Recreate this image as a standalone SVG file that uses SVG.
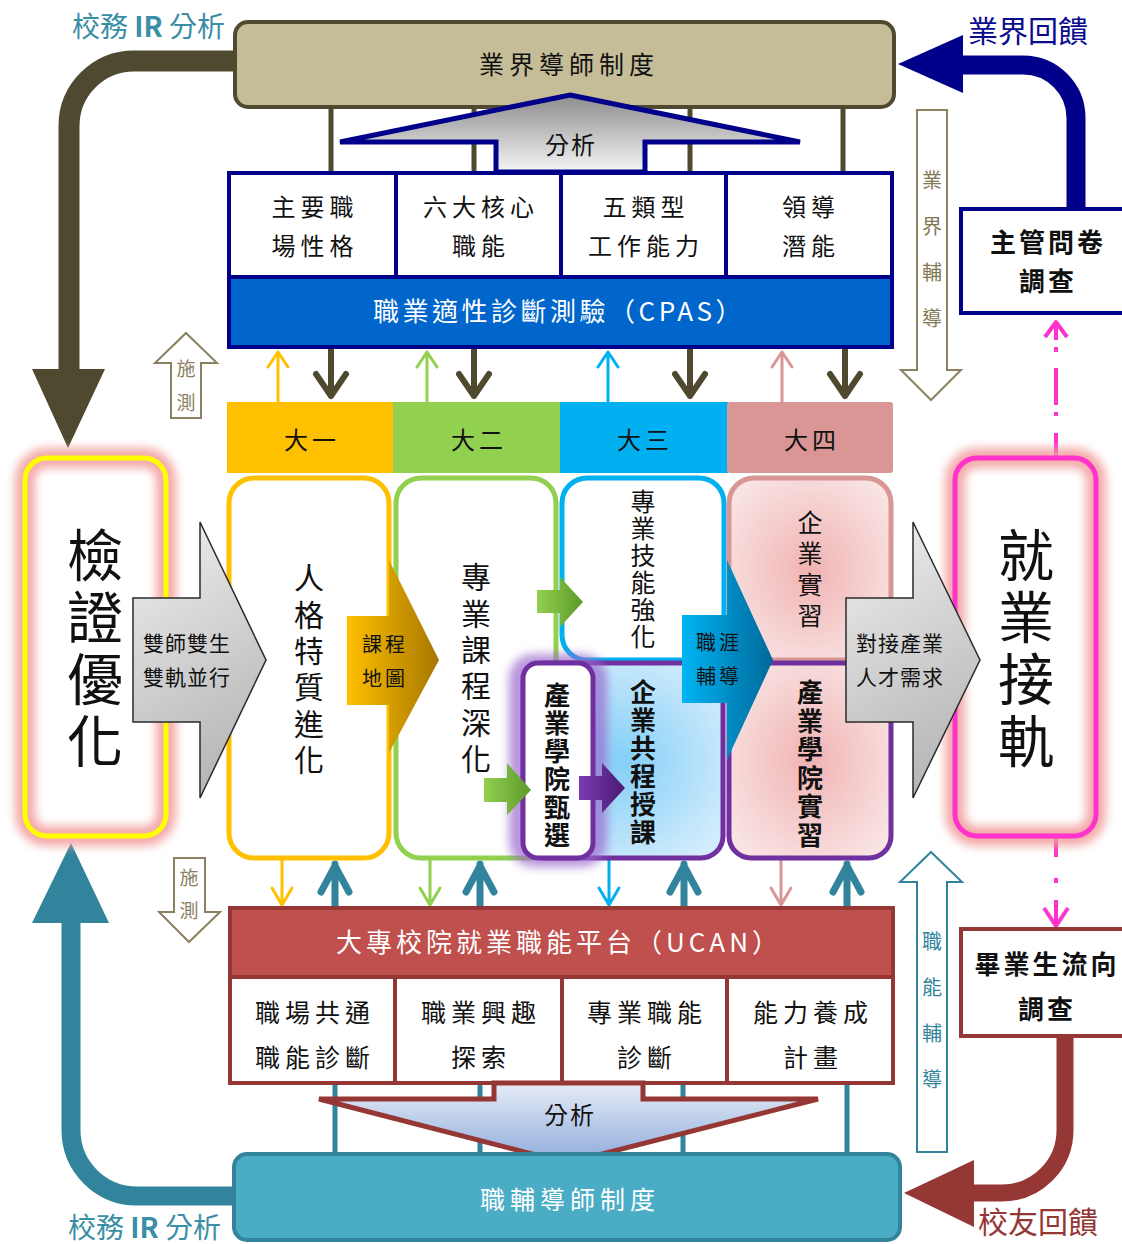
<svg xmlns="http://www.w3.org/2000/svg" width="1122" height="1244" viewBox="0 0 1122 1244">
<defs>
<style>
text{font-family:"Noto Sans CJK TC","Noto Sans CJK SC","Noto Sans",sans-serif;fill:#111;}
.m{text-anchor:middle}
.b{font-weight:700}
.w{fill:#fff}
.v{writing-mode:vertical-rl;text-anchor:middle}
.ol{fill:none;stroke:#4f4a2f;stroke-linecap:round;stroke-linejoin:round}
.tl{fill:none;stroke:#31849b;stroke-linecap:round;stroke-linejoin:round}
.thin{fill:none;stroke-width:3;stroke-linecap:round;stroke-linejoin:round}
.mg{fill:none;stroke:#ff33cc;stroke-width:4}
</style>
<linearGradient id="gGray" x1="0" y1="0" x2="0.3" y2="1"><stop offset="0" stop-color="#f0f0f0"/><stop offset="1" stop-color="#b8b8b8"/></linearGradient>
<linearGradient id="gOrange" x1="0" y1="0" x2="1" y2="0"><stop offset="0" stop-color="#ffc000"/><stop offset="1" stop-color="#a67700"/></linearGradient>
<linearGradient id="gBlue" x1="0" y1="0" x2="1" y2="0"><stop offset="0" stop-color="#00b4f4"/><stop offset="1" stop-color="#00689a"/></linearGradient>
<linearGradient id="gGreen" x1="0" y1="0" x2="1" y2="0"><stop offset="0" stop-color="#92d050"/><stop offset="1" stop-color="#5c9a2a"/></linearGradient>
<linearGradient id="gPurple" x1="0" y1="0" x2="1" y2="0"><stop offset="0" stop-color="#7a3cb0"/><stop offset="1" stop-color="#4a1a72"/></linearGradient>
<linearGradient id="gTopA" x1="0" y1="0" x2="0" y2="1"><stop offset="0" stop-color="#8c8c8c"/><stop offset="1" stop-color="#f6f6f6"/></linearGradient>
<linearGradient id="gBotA" x1="0" y1="0" x2="0" y2="1"><stop offset="0" stop-color="#e6ecf7"/><stop offset="1" stop-color="#8eaadb"/></linearGradient>
<radialGradient id="gPink" cx="0.5" cy="0.5" r="0.6"><stop offset="0" stop-color="#f1b3b3"/><stop offset="1" stop-color="#f9e3e3"/></radialGradient>
<radialGradient id="gLBlue" cx="0.5" cy="0.5" r="0.6"><stop offset="0" stop-color="#84cff8"/><stop offset="1" stop-color="#d2ecfc"/></radialGradient>
<filter id="blur" x="-50%" y="-50%" width="200%" height="200%"><feGaussianBlur stdDeviation="5"/></filter>
</defs>
<rect width="1122" height="1244" fill="#fff"/>

<!-- connectors -->
<g id="connectors">
  <path class="ol" d="M 240 61 H 134 A 65 65 0 0 0 69 126 V 372" stroke-width="21" stroke-linecap="butt"/>
  <polygon points="32,369 105,369 68,448" fill="#4f4a2f"/>
  <path d="M 1076 212 V 118 A 53 53 0 0 0 1023 65 H 958" fill="none" stroke="#00008b" stroke-width="19"/>
  <polygon points="963,35 963,93 898,64" fill="#00008b"/>
  <path d="M 240 1196 H 137 A 66 66 0 0 1 71 1130 V 918" fill="none" stroke="#31849b" stroke-width="19"/>
  <polygon points="32,923 109,923 71,843" fill="#31849b"/>
  <path d="M 1065 1035 V 1130 A 63 63 0 0 1 1002 1193 H 968" fill="none" stroke="#953735" stroke-width="17"/>
  <polygon points="974,1160 974,1227 904,1193" fill="#953735"/>
  <g class="ol" stroke-width="5">
    <line x1="331" y1="106" x2="331" y2="174"/>
    <line x1="474" y1="106" x2="474" y2="174"/>
    <line x1="690" y1="106" x2="690" y2="174"/>
    <line x1="843" y1="106" x2="843" y2="174"/>
  </g>
  <g class="ol" stroke-width="6">
    <path d="M 331 348 V 396 M 316 374 L 331 396 L 346 374"/>
    <path d="M 474 348 V 396 M 459 374 L 474 396 L 489 374"/>
    <path d="M 690 348 V 396 M 675 374 L 690 396 L 705 374"/>
    <path d="M 845 348 V 396 M 830 374 L 845 396 L 860 374"/>
  </g>
  <path class="thin" stroke="#ffc000" d="M 278 402 V 352 M 268 367 L 278 352 L 288 367"/>
  <path class="thin" stroke="#92d050" d="M 427 402 V 352 M 417 367 L 427 352 L 437 367"/>
  <path class="thin" stroke="#00b0f0" d="M 608 402 V 352 M 598 367 L 608 352 L 618 367"/>
  <path class="thin" stroke="#d99694" d="M 782 402 V 352 M 772 367 L 782 352 L 792 367"/>
  <path class="thin" stroke="#ffc000" d="M 282 860 V 905 M 272 888 L 282 905 L 292 888"/>
  <path class="thin" stroke="#92d050" d="M 430 860 V 905 M 420 888 L 430 905 L 440 888"/>
  <path class="thin" stroke="#00b0f0" d="M 609 860 V 905 M 599 888 L 609 905 L 619 888"/>
  <path class="thin" stroke="#d99694" d="M 781 860 V 905 M 771 888 L 781 905 L 791 888"/>
  <g class="tl" stroke-width="7">
    <path d="M 335 907 V 864 M 321 892 L 335 866 L 349 892"/>
    <path d="M 480 907 V 864 M 466 892 L 480 866 L 494 892"/>
    <path d="M 684 907 V 864 M 670 892 L 684 866 L 698 892"/>
    <path d="M 847 907 V 864 M 833 892 L 847 866 L 861 892"/>
  </g>
  <g class="tl" stroke-width="5" stroke-linecap="butt">
    <line x1="335" y1="1083" x2="335" y2="1156"/>
    <line x1="480" y1="1083" x2="480" y2="1156"/>
    <line x1="683" y1="1083" x2="683" y2="1156"/>
    <line x1="847" y1="1083" x2="847" y2="1156"/>
  </g>
  <g class="mg">
    <path d="M 1045 337 L 1056 322 L 1067 337" stroke-linejoin="round"/>
    <path d="M 1056 322 V 340 M 1056 347 V 352 M 1056 368 V 405 M 1056 412 V 416 M 1056 433 V 458"/>
    <path d="M 1056 838 V 857 M 1056 878 V 883 M 1056 900 V 926"/>
    <path d="M 1044 908 L 1056 926 L 1068 908" stroke-linejoin="round"/>
  </g>
  <polygon points="917,110 947,110 947,370 961,370 931,400 901,370 917,370" fill="#fff" stroke="#8b8160" stroke-width="2"/>
  <polygon points="931,852 962,882 947,882 947,1152 917,1152 917,882 900,882" fill="#fff" stroke="#31849b" stroke-width="2"/>
  <polygon points="186,333 217,363 201,363 201,418 171,418 171,363 155,363" fill="#fff" stroke="#8b8160" stroke-width="2"/>
  <polygon points="174,858 205,858 205,912 220,912 189,942 159,912 174,912" fill="#fff" stroke="#8b8160" stroke-width="2"/>
</g>

<g id="n-industry-mentor">
  <rect x="235" y="22" width="659" height="85" rx="13" fill="#c4bd97" stroke="#4f4a2f" stroke-width="4"/>
  <text x="569" y="74" class="m" font-size="25" letter-spacing="5">業界導師制度</text>
</g>

<g id="n-cpas">
  <rect x="229" y="173" width="663" height="174" fill="#fff" stroke="#00008b" stroke-width="4"/>
  <rect x="229" y="277" width="663" height="70" fill="#0066cc" stroke="#00008b" stroke-width="4"/>
  <g stroke="#00008b" stroke-width="4">
    <line x1="396" y1="173" x2="396" y2="277"/>
    <line x1="561" y1="173" x2="561" y2="277"/>
    <line x1="726" y1="173" x2="726" y2="277"/>
  </g>
  <text x="559" y="321" class="m w" font-size="26" letter-spacing="3.5">職業適性診斷測驗（CPAS）</text>
</g>
<g id="n-cpas-1"><text class="m" font-size="24" letter-spacing="5"><tspan x="315" y="216">主要職</tspan><tspan x="315" y="255">場性格</tspan></text></g>
<g id="n-cpas-2"><text class="m" font-size="24" letter-spacing="5"><tspan x="481" y="216">六大核心</tspan><tspan x="481" y="255">職能</tspan></text></g>
<g id="n-cpas-3"><text class="m" font-size="24" letter-spacing="5"><tspan x="646" y="216">五類型</tspan><tspan x="646" y="255">工作能力</tspan></text></g>
<g id="n-cpas-4"><text class="m" font-size="24" letter-spacing="5"><tspan x="811" y="216">領導</tspan><tspan x="811" y="255">潛能</tspan></text></g>

<g id="n-analysis-top">
  <polygon points="570,95 800,142 645,142 645,172 496,172 496,142 340,142" fill="url(#gTopA)" stroke="#00008b" stroke-width="5" stroke-linejoin="miter"/>
  <text x="571" y="154" class="m" font-size="24" letter-spacing="2">分析</text>
</g>

<g id="n-year1"><rect x="227" y="402" width="167" height="71" fill="#ffc000"/><text x="312" y="449" class="m" font-size="24" letter-spacing="4">大一</text></g>
<g id="n-year2"><rect x="393" y="402" width="168" height="71" fill="#92d050"/><text x="479" y="449" class="m" font-size="24" letter-spacing="4">大二</text></g>
<g id="n-year3"><rect x="560" y="402" width="168" height="71" fill="#00b0f0"/><text x="645" y="449" class="m" font-size="24" letter-spacing="4">大三</text></g>
<g id="n-year4"><rect x="727" y="402" width="166" height="71" rx="3" fill="#d99694"/><text x="812" y="449" class="m" font-size="24" letter-spacing="4">大四</text></g>

<g id="n-verify">
  <rect x="25" y="458" width="141" height="378" rx="22" fill="#fff"/>
  <rect x="25" y="458" width="141" height="378" rx="22" fill="none" stroke="#f29a9a" stroke-width="20" filter="url(#blur)" opacity="0.85"/>
  <rect x="25" y="458" width="141" height="378" rx="22" fill="none" stroke="#ffff00" stroke-width="5"/>
  <text class="v" x="95" y="651" font-size="56" letter-spacing="6">檢證優化</text>
</g>

<g id="n-employ">
  <rect x="955" y="458" width="141" height="378" rx="22" fill="#fff"/>
  <rect x="955" y="458" width="141" height="378" rx="22" fill="none" stroke="#f29a9a" stroke-width="20" filter="url(#blur)" opacity="0.85"/>
  <rect x="955" y="458" width="141" height="378" rx="22" fill="none" stroke="#ff33cc" stroke-width="5"/>
  <text class="v" x="1026" y="651" font-size="56" letter-spacing="6">就業接軌</text>
</g>

<g id="n-personality">
  <rect x="229" y="478" width="160" height="380" rx="25" fill="#fff" stroke="#ffc000" stroke-width="5"/>
  <text class="v" x="309" y="672" font-size="30" letter-spacing="6.4">人格特質進化</text>
</g>
<g id="n-course">
  <rect x="396" y="478" width="160" height="380" rx="25" fill="#fff" stroke="#92d050" stroke-width="5"/>
  <text class="v" x="476" y="671" font-size="30" letter-spacing="6.4">專業課程深化</text>
</g>
<g id="n-skill">
  <rect x="562" y="478" width="162" height="182" rx="25" fill="#fff" stroke="#00b0f0" stroke-width="5"/>
  <text class="v" x="643" y="570" font-size="25" letter-spacing="2">專業技能強化</text>
</g>
<g id="n-intern">
  <rect x="729" y="478" width="162" height="182" rx="25" fill="url(#gPink)" stroke="#d99694" stroke-width="5"/>
  <text class="v" x="810" y="572" font-size="25" letter-spacing="6">企業實習</text>
</g>
<g id="n-coteach">
  <rect x="523" y="663" width="200" height="195" rx="22" fill="url(#gLBlue)" stroke="#7030a0" stroke-width="5"/>
  <text class="v b" x="643" y="763" font-size="26" letter-spacing="2">企業共程授課</text>
</g>
<g id="n-select">
  <rect x="518" y="663" width="80" height="195" rx="16" fill="none" stroke="#9a68cc" stroke-width="18" filter="url(#blur)" opacity="0.7"/>
  <rect x="523" y="663" width="70" height="195" rx="15" fill="#fff" stroke="#7030a0" stroke-width="5"/>
  <text class="v b" x="557" y="766" font-size="26" letter-spacing="2">產業學院甄選</text>
</g>
<g id="n-academy-intern">
  <rect x="729" y="663" width="162" height="195" rx="22" fill="url(#gPink)" stroke="#7030a0" stroke-width="5"/>
  <text class="v b" x="810" y="765" font-size="26" letter-spacing="2.5">產業學院實習</text>
</g>

<g id="n-dual">
  <polygon points="133,598 200,598 200,522 266,660 200,798 200,722 133,722" fill="url(#gGray)" stroke="#2a2a2a" stroke-width="1.5"/>
  <text class="m" font-size="21" letter-spacing="1"><tspan x="187" y="651">雙師雙生</tspan><tspan x="187" y="685">雙軌並行</tspan></text>
</g>
<g id="n-map">
  <polygon points="347,616 389,616 389,560 439,660 389,753 389,705 347,705" fill="url(#gOrange)"/>
  <text class="m" font-size="20" letter-spacing="3"><tspan x="385" y="652">課程</tspan><tspan x="385" y="686">地圖</tspan></text>
</g>
<polygon id="n-green-a" points="537,590 560,590 560,577 583,602 560,627 560,613 537,613" fill="url(#gGreen)"/>
<polygon id="n-green-b" points="484,778 507,778 507,763 531,790 507,815 507,802 484,802" fill="url(#gGreen)"/>
<polygon id="n-purple-a" points="579,776 602,776 602,763 625,788 602,813 602,800 579,800" fill="url(#gPurple)"/>
<g id="n-career">
  <polygon points="682,615 727,615 727,560 773,660 727,760 727,703 682,703" fill="url(#gBlue)"/>
  <text class="m" font-size="20" letter-spacing="3"><tspan x="719" y="650">職涯</tspan><tspan x="719" y="684">輔導</tspan></text>
</g>
<g id="n-connect">
  <polygon points="846,598 913,598 913,522 980,660 913,798 913,722 846,722" fill="url(#gGray)" stroke="#2a2a2a" stroke-width="1.5"/>
  <text class="m" font-size="21" letter-spacing="1"><tspan x="900" y="651">對接產業</tspan><tspan x="900" y="685">人才需求</tspan></text>
</g>

<g id="n-ucan">
  <rect x="230" y="908" width="663" height="175" fill="#fff" stroke="#953735" stroke-width="4"/>
  <rect x="230" y="908" width="663" height="69" fill="#c0504d" stroke="#953735" stroke-width="4"/>
  <g stroke="#953735" stroke-width="4">
    <line x1="395" y1="977" x2="395" y2="1083"/>
    <line x1="562" y1="977" x2="562" y2="1083"/>
    <line x1="727" y1="977" x2="727" y2="1083"/>
  </g>
  <text x="559" y="952" class="m w" font-size="26" letter-spacing="4">大專校院就業職能平台（UCAN）</text>
</g>
<g id="n-ucan-1"><text class="m" font-size="25" letter-spacing="5"><tspan x="315" y="1022">職場共通</tspan><tspan x="315" y="1067">職能診斷</tspan></text></g>
<g id="n-ucan-2"><text class="m" font-size="25" letter-spacing="5"><tspan x="481" y="1022">職業興趣</tspan><tspan x="481" y="1067">探索</tspan></text></g>
<g id="n-ucan-3"><text class="m" font-size="25" letter-spacing="5"><tspan x="647" y="1022">專業職能</tspan><tspan x="647" y="1067">診斷</tspan></text></g>
<g id="n-ucan-4"><text class="m" font-size="25" letter-spacing="5"><tspan x="813" y="1022">能力養成</tspan><tspan x="813" y="1067">計畫</tspan></text></g>

<g id="n-analysis-bottom">
  <polygon points="494,1083 494,1099 319,1099 567,1163 818,1099 643,1099 643,1083" fill="url(#gBotA)" stroke="#953735" stroke-width="5" stroke-linejoin="miter"/>
  <text x="570" y="1124" class="m" font-size="24" letter-spacing="2">分析</text>
</g>

<g id="n-career-mentor">
  <rect x="234" y="1154" width="666" height="86" rx="13" fill="#4bacc6" stroke="#31849b" stroke-width="4"/>
  <text x="570" y="1209" class="m w" font-size="25" letter-spacing="5">職輔導師制度</text>
</g>

<g id="n-supervisor">
  <rect x="961" y="209" width="170" height="104" fill="#fff" stroke="#00008b" stroke-width="4"/>
  <text class="m b" font-size="26" letter-spacing="3"><tspan x="1048" y="252">主管問卷</tspan><tspan x="1048" y="291">調查</tspan></text>
</g>
<g id="n-graduate">
  <rect x="961" y="929" width="170" height="107" fill="#fff" stroke="#953735" stroke-width="4"/>
  <text class="m b" font-size="26" letter-spacing="3"><tspan x="1047" y="974">畢業生流向</tspan><tspan x="1047" y="1019">調查</tspan></text>
</g>

<g id="labels">
  <text x="72" y="37" font-size="28" style="fill:#3a8ea6">校務 <tspan font-weight="700">IR</tspan> 分析</text>
  <text x="68" y="1238" font-size="28" style="fill:#3a8ea6">校務 <tspan font-weight="700">IR</tspan> 分析</text>
  <text x="968" y="42" font-size="30" style="fill:#0b0b8f">業界回饋</text>
  <text x="978" y="1233" font-size="30" style="fill:#953735">校友回饋</text>
  <text class="v" x="932" y="262" font-size="20" letter-spacing="26" style="fill:#7f7752">業界輔導</text>
  <text class="v" x="932" y="1023" font-size="20" letter-spacing="26" style="fill:#31849b">職能輔導</text>
  <text class="v" x="186" y="393" font-size="19" letter-spacing="15" style="fill:#8b8160">施測</text>
  <text class="v" x="189" y="901" font-size="19" letter-spacing="14" style="fill:#8b8160">施測</text>
</g>
</svg>
